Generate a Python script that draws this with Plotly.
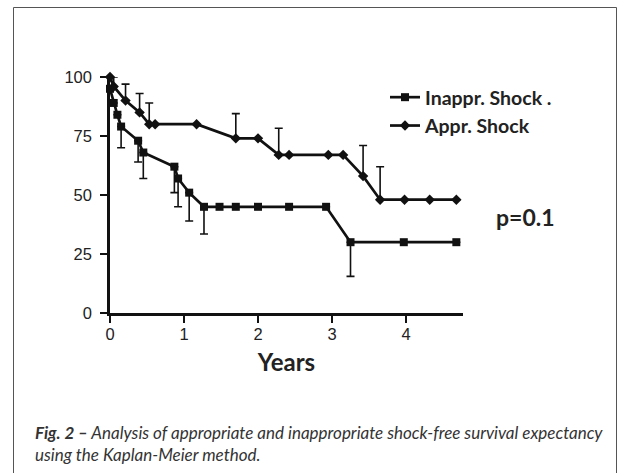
import plotly.graph_objects as go

# ---- data ----
inappr_x = [0.0, 0.05, 0.10, 0.15, 0.38, 0.45, 0.87, 0.92, 1.07, 1.27, 1.48, 1.70, 2.00, 2.42, 2.92, 3.25, 3.97, 4.68]
inappr_y = [95, 89, 84, 79, 73, 68, 62, 57, 51, 45, 45, 45, 45, 45, 45, 30, 30, 30]
inappr_err_lo = [None, None, None, 9, 9, 11, 11, 12, 12, 11.5, None, None, None, None, None, 14.5, None, None]

appr_x = [0.0, 0.05, 0.21, 0.40, 0.53, 0.61, 1.17, 1.70, 2.00, 2.28, 2.42, 2.95, 3.15, 3.42, 3.65, 3.98, 4.32, 4.68]
appr_y = [100, 96, 90, 85, 80, 80, 80, 74, 74, 67, 67, 67, 67, 58, 48, 48, 48, 48]
appr_err_hi = [None, 4, 7, 8, 9, None, None, 10.5, None, 11.3, None, None, None, 13, 14, None, None, None]

x_ticks = [0, 1, 2, 3, 4]
y_ticks = [0, 25, 50, 75, 100]

names = ["Inappr. Shock .", "Appr. Shock"]
x_title = "Years"
p_text = "p=0.1"
caption = ("<b><i>Fig. 2 –</i></b><i> Analysis of appropriate and inappropriate shock-free survival expectancy</i>"
           "<br><i>using the Kaplan-Meier method.</i>")

# ---- layout geometry (window pixels) ----
W, H = 618, 473
L, R, T, B = 110, 463, 77, 313
pw, ph = R - L, B - T


def px(xp):
    return (xp - L) / pw


def py(yp):
    return (B - yp) / ph


ink = "#111111"

fig = go.Figure()
fig.add_trace(go.Scatter(
    x=inappr_x, y=inappr_y, name=names[0], mode="lines+markers",
    line=dict(color=ink, width=2.7),
    marker=dict(symbol="square", size=8, color=ink),
    error_y=dict(type="data", symmetric=False, array=[None] * len(inappr_x),
                 arrayminus=inappr_err_lo, color=ink, thickness=1.6, width=4),
    cliponaxis=False, legendgroup="a",
))
fig.add_trace(go.Scatter(
    x=appr_x, y=appr_y, name=names[1], mode="lines+markers",
    line=dict(color=ink, width=2.7),
    marker=dict(symbol="diamond", size=8, color=ink),
    error_y=dict(type="data", symmetric=False, array=appr_err_hi,
                 arrayminus=[None] * len(appr_x), color=ink, thickness=1.6, width=4),
    cliponaxis=False, legendgroup="b",
))

axis_common = dict(
    showgrid=False, zeroline=False, showline=True, linecolor=ink, linewidth=2.5,
    ticks="outside", ticklen=7, tickwidth=2, tickcolor=ink,
    tickfont=dict(family="Liberation Sans, Arial", size=16.5, color="#222222"),
)

fig.update_layout(
    width=W, height=H,
    margin=dict(l=L, r=W - R, t=T, b=H - B, pad=0),
    paper_bgcolor="white", plot_bgcolor="white",
    xaxis=dict(range=[0, 4.77], tickvals=x_ticks, ticklabelstandoff=-3,
               title=dict(text="<b>" + x_title + "</b>", standoff=13,
                          font=dict(family="Lato", size=24, color="#222222")),
               **axis_common),
    yaxis=dict(range=[0, 100], tickvals=y_ticks, ticklabelstandoff=5, **axis_common),
    showlegend=True,
    legend=dict(x=px(385), y=py(78), xanchor="left", yanchor="top",
                bgcolor="rgba(0,0,0,0)", tracegroupgap=0,
                font=dict(family="Lato", size=19.5, color="#222222", weight="bold")),
    shapes=[dict(type="rect", xref="paper", yref="paper",
                 x0=px(13.5), x1=px(616.5), y0=py(490), y1=py(7.5),
                 line=dict(color="#555555", width=1), layer="below")],
    annotations=[
        dict(text="<b>" + p_text + "</b>", xref="paper", yref="paper",
             x=px(525), y=py(217), xanchor="center", yanchor="middle", showarrow=False,
             font=dict(family="Lato", size=23, color="#222222")),
        dict(text=caption, xref="paper", yref="paper", x=px(33), y=py(420),
             xanchor="left", yanchor="top", align="left", showarrow=False,
             font=dict(family="Lato", size=17, color="#333333")),
    ],
)

# remove the browser's default 8px page margin so the figure fills the window exactly
fig.write_html("out.html", config={"displayModeBar": False},
               post_script="document.body.style.margin='0';document.body.style.overflow='hidden';")
